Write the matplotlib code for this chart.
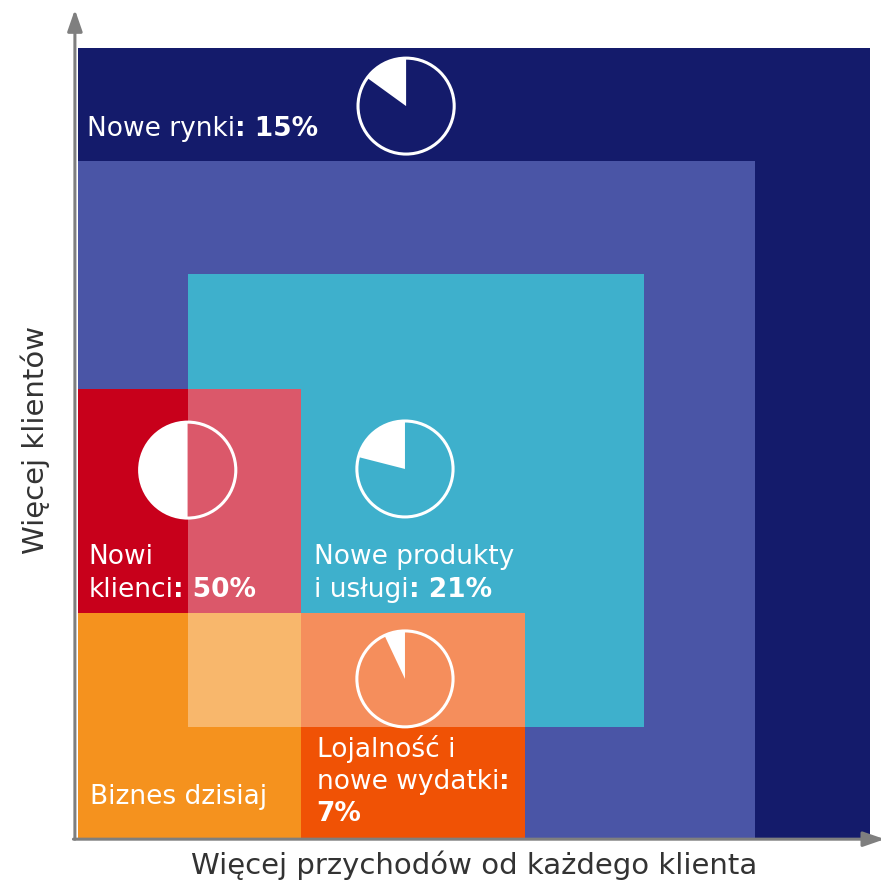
import matplotlib.pyplot as plt
from matplotlib.patches import Rectangle, Wedge, Circle

# growth areas on a 7x7 grid: (left, right, bottom, top)
areas = ["Nowe rynki", "Rozszerzenie", "Nowe produkty", "Nowi klienci", "Biznes dzisiaj", "Lojalność"]
area_x0 = [0, 0, 0.97, 0, 0, 1.97]
area_x1 = [7, 5.98, 5.0, 1.97, 1.97, 3.95]
area_y0 = [0, 0, 0.98, 1.99, 0, 0]
area_y1 = [7, 6.0, 5.0, 3.98, 1.99, 1.99]
area_colors = ["#141B6B", "#4A55A6", "#3EB0CC", "#C8001B", "#F5921E", "#F05205"]

# share of growth shown in the small pies
pie_labels = ["Nowe rynki", "Nowi klienci", "Nowe produkty", "Lojalność"]
pie_share = [15, 50, 21, 7]

# label lines: list of (text, bold) segments per line
label_lines = {
    "Nowe rynki": [[("Nowe rynki", False), (": 15%", True)]],
    "Nowi klienci": [[("Nowi", False)], [("klienci", False), (": 50%", True)]],
    "Nowe produkty": [[("Nowe produkty", False)], [("i usługi", False), (": 21%", True)]],
    "Lojalność": [[("Lojalność i", False)], [("nowe wydatki", False), (":", True)], [("7%", True)]],
    "Biznes dzisiaj": [[("Biznes dzisiaj", False)]],
}

x_title = "Więcej przychodów od każdego klienta"
y_title = "Więcej klientów"

# layout (grid units)
pie_pos = {"Nowe rynki": (2.90, 6.485), "Nowi klienci": (0.97, 3.26),
           "Nowe produkty": (2.89, 3.27), "Lojalność": (2.89, 1.41)}
pie_r = 0.425
label_pos = {"Nowe rynki": (0.08, 6.28), "Nowi klienci": (0.09, 2.49),
             "Nowe produkty": (2.09, 2.49), "Lojalność": (2.11, 0.79),
             "Biznes dzisiaj": (0.11, 0.36)}
line_step = 0.29

fig = plt.figure(figsize=(8.81, 8.85), dpi=100)
ax = fig.add_axes([0, 0, 1, 1])
ax.set_xlim(-0.689, 7.097)
ax.set_ylim(-0.416, 7.425)
ax.set_axis_off()

for x0, x1, y0, y1, c in zip(area_x0, area_x1, area_y0, area_y1, area_colors):
    ax.add_patch(Rectangle((x0, y0), x1 - x0, y1 - y0, facecolor=c, edgecolor="none"))

# lighten where the product square overlaps the front squares
ti = areas.index("Nowe produkty")
for name in ["Nowi klienci", "Biznes dzisiaj", "Lojalność"]:
    i = areas.index(name)
    ox0 = max(area_x0[i], area_x0[ti]); ox1 = min(area_x1[i], area_x1[ti])
    oy0 = max(area_y0[i], area_y0[ti]); oy1 = min(area_y1[i], area_y1[ti])
    if ox1 > ox0 and oy1 > oy0:
        ax.add_patch(Rectangle((ox0, oy0), ox1 - ox0, oy1 - oy0,
                               facecolor="white", alpha=0.35, edgecolor="none"))

for name, share in zip(pie_labels, pie_share):
    cx, cy = pie_pos[name]
    ax.add_patch(Wedge((cx, cy), pie_r, 90, 90 + share * 3.6, facecolor="white", edgecolor="none"))
    ax.add_patch(Circle((cx, cy), pie_r, facecolor="none", edgecolor="white", lw=2.2))

fs = 19
for name, lines in label_lines.items():
    lx, ly = label_pos[name]
    for k, segs in enumerate(lines):
        prev = None
        for text, bold in segs:
            weight = "bold" if bold else "normal"
            if prev is None:
                prev = ax.text(lx, ly - k * line_step, text, color="white", fontsize=fs,
                               fontweight=weight, va="center", ha="left")
            else:
                prev = ax.annotate(text, xy=(1, 0.5), xycoords=prev, color="white",
                                   fontsize=fs, fontweight=weight, va="center", ha="left")

# axes arrows
arrow = dict(arrowstyle="-|>,head_width=0.45,head_length=1.3", color="#7F7F7F", lw=2.2,
             shrinkA=0, shrinkB=0)
ax.annotate("", xy=(-0.027, 7.34), xytext=(-0.027, -0.01), arrowprops=arrow,
            annotation_clip=False)
ax.annotate("", xy=(7.13, -0.01), xytext=(-0.04, -0.01), arrowprops=arrow,
            annotation_clip=False)

ax.text(3.5, -0.245, x_title, fontsize=21, color="#333333", ha="center", va="center")
ax.text(-0.38, 3.53, y_title, fontsize=21, color="#333333", ha="center", va="center",
        rotation=90)

fig.savefig("out.png", dpi=100)
